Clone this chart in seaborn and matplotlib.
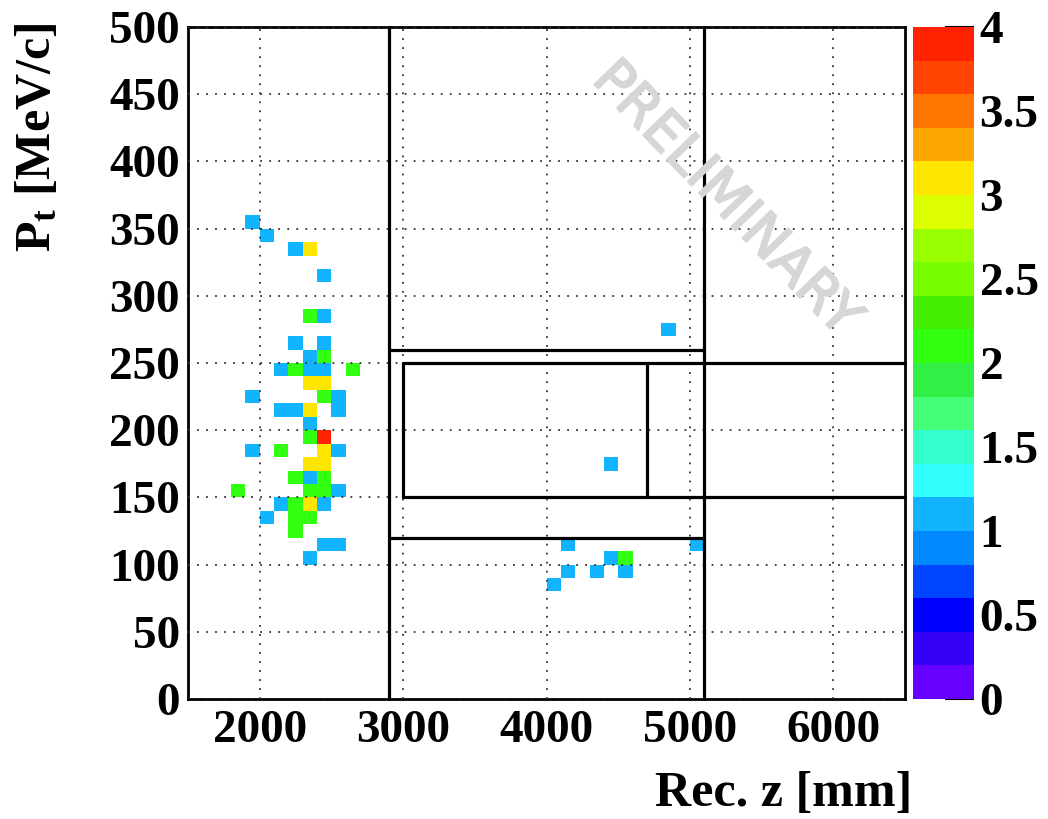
import numpy as np
import pandas as pd
import matplotlib
matplotlib.use("Agg")
import matplotlib.pyplot as plt
import matplotlib.patheffects as pe
from matplotlib.colors import ListedColormap, Normalize
from matplotlib.cm import ScalarMappable
from matplotlib.ticker import MultipleLocator
import seaborn as sns

# ---- data: bin centres (Rec. z [mm], Pt [MeV/c]) and bin contents ----
rec_z = [1950, 2050, 2250, 2350, 2450, 2350, 2450, 2250, 2450, 2350, 2450,
         2150, 2250, 2350, 2450, 2650, 2350, 2450, 1950, 2450, 2550,
         2150, 2250, 2350, 2550, 2350, 2350, 2450,
         1950, 2150, 2450, 2550, 2350, 2450, 2250, 2350, 2450,
         1850, 2350, 2450, 2550, 2150, 2250, 2350, 2450,
         2050, 2250, 2350, 2250, 2450, 2550, 2350,
         4850, 4450, 4150, 5050, 4450, 4550, 4150, 4350, 4550, 4050]
pt = [355, 345, 335, 335, 315, 285, 285, 265, 265, 255, 255,
      245, 245, 245, 245, 245, 235, 235, 225, 225, 225,
      215, 215, 215, 215, 205, 195, 195,
      185, 185, 185, 185, 175, 175, 165, 165, 165,
      155, 155, 155, 155, 145, 145, 145, 145,
      135, 135, 135, 125, 115, 115, 105,
      275, 175, 115, 115, 105, 105, 95, 95, 95, 85]
counts = [1, 1, 1, 3, 1, 2, 1, 1, 1, 1, 2,
          1, 2, 1, 1, 2, 3, 3, 1, 2, 1,
          1, 1, 3, 1, 1, 2, 4,
          1, 2, 3, 1, 3, 3, 2, 1, 2,
          2, 2, 2, 1, 1, 2, 3, 1,
          1, 2, 2, 2, 1, 1, 1,
          1, 1, 1, 1, 1, 2, 1, 1, 1, 1]

# region boundaries drawn as line segments
h_segments = [(2900, 5100, 260), (2900, 5100, 120), (3000, 6500, 250), (3000, 6500, 150)]
v_segments = [(2900, 0, 500), (5100, 0, 500), (3000, 150, 250), (4700, 150, 250)]

xticks = [2000, 3000, 4000, 5000, 6000]
yticks = [0, 50, 100, 150, 200, 250, 300, 350, 400, 450, 500]
cticks = [0, 0.5, 1, 1.5, 2, 2.5, 3, 3.5, 4]
ctick_labels = ["0", "0.5", "1", "1.5", "2", "2.5", "3", "3.5", "4"]

palette = ["#6600ff", "#3300f5", "#0000ff", "#0044ff", "#0088ff",
           "#12b4ff", "#33ffff", "#33ffcc", "#44ff77", "#33ee44",
           "#33ff11", "#44ee00", "#77ff00", "#99ff00", "#ddff00",
           "#ffe600", "#ffa500", "#ff7700", "#ff4400", "#ff2200"]

sns.set_style("white")
plt.rcParams["font.family"] = ["Liberation Serif", "DejaVu Serif"]
plt.rcParams["font.weight"] = "bold"
plt.rcParams["text.color"] = "black"
plt.rcParams["axes.labelcolor"] = "black"
plt.rcParams["xtick.color"] = "black"
plt.rcParams["ytick.color"] = "black"
plt.rcParams["mathtext.fontset"] = "custom"
plt.rcParams["mathtext.rm"] = "Liberation Serif:bold"
plt.rcParams["mathtext.it"] = "Liberation Serif:bold"
plt.rcParams["mathtext.bf"] = "Liberation Serif:bold"

FS = 34
cmap = ListedColormap(palette)

fig = plt.figure(figsize=(10.48, 8.19), dpi=100)
ax = fig.add_axes([0.1794, 0.1465, 0.6842, 0.8205])
cax = fig.add_axes([0.8712, 0.1465, 0.0582, 0.8205])

df = pd.DataFrame({"z": rec_z, "pt": pt, "n": counts})
sns.histplot(data=df, x="z", y="pt", weights="n", binwidth=(100, 10),
             binrange=((1500, 6500), (0, 500)), cmap=cmap, ax=ax,
             cbar=False, linewidth=0)
for coll in ax.collections:
    coll.set_cmap(cmap)
    coll.set_clim(0, 4)

ax.set_xlim(1500, 6500)
ax.set_ylim(0, 500)
ax.set_xlabel("")
ax.set_ylabel("")

ax.set_xticks(xticks)
ax.set_yticks(yticks)
ax.xaxis.set_minor_locator(MultipleLocator(200))
ax.yaxis.set_minor_locator(MultipleLocator(10))
ax.tick_params(axis="both", which="both", direction="in", colors="black",
               labelcolor="black", labelsize=FS, top=False, right=False)
ax.tick_params(axis="x", which="major", length=16, width=1.2, pad=8)
ax.tick_params(axis="x", which="minor", length=7, width=1.0)
ax.tick_params(axis="y", which="major", length=20, width=1.2, pad=6)
ax.tick_params(axis="y", which="minor", length=11, width=1.0)
for lab in ax.get_xticklabels() + ax.get_yticklabels():
    lab.set_fontweight("bold")

ax.grid(True, which="major", color="0.2", linestyle=(0, (1, 4)), linewidth=1.3)
ax.set_axisbelow(False)
for sp in ax.spines.values():
    sp.set_visible(True)
    sp.set_color("black")
    sp.set_linewidth(2)

for x0, x1, y in h_segments:
    ax.plot([x0, x1], [y, y], color="black", linewidth=2.3, zorder=5, clip_on=False)
for x, y0, y1 in v_segments:
    ax.plot([x, x], [y0, y1], color="black", linewidth=2.3, zorder=5, clip_on=False)

wm = ax.text(5250, 372, "PRELIMINARY", transform=ax.transData, rotation=-46,
             rotation_mode="anchor", ha="center", va="center", fontsize=39,
             family="DejaVu Sans", fontweight="normal", color="#d6d6d6", zorder=6)
wm.set_path_effects([pe.withStroke(linewidth=1.5, foreground="#d6d6d6")])

sm = ScalarMappable(norm=Normalize(0, 4), cmap=cmap)
cb = fig.colorbar(sm, cax=cax, ticks=cticks)
cb.outline.set_visible(False)
cb.ax.set_yticklabels(ctick_labels)
cb.ax.tick_params(direction="in", length=21, width=1.5, colors="black",
                  labelcolor="black", labelsize=FS, pad=4)
for lab in cb.ax.get_yticklabels():
    lab.set_fontweight("bold")

fig.text(0.870, 0.002, "Rec. z [mm]", ha="right", va="bottom",
         fontsize=36, fontweight="bold", color="black")
fig.text(0.036, 0.972, r"P$_{\mathrm{t}}$ [MeV/c]", ha="center", va="top",
         rotation=90, fontsize=36, fontweight="bold", color="black")

fig.savefig("out.png", dpi=100, facecolor="white")
